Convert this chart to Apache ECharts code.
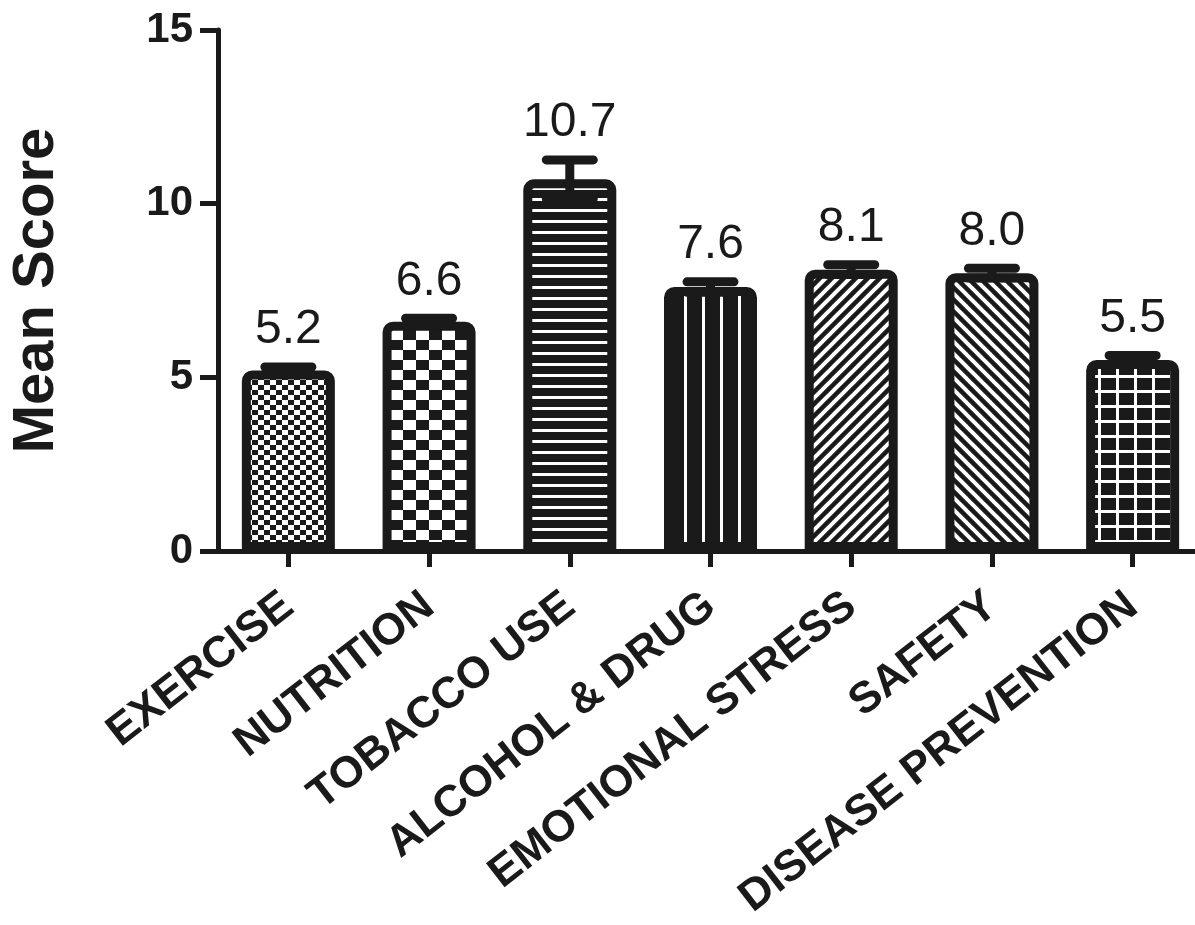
<!DOCTYPE html>
<html>
<head>
<meta charset="utf-8">
<script src="https://cdn.jsdelivr.net/npm/echarts@6/dist/echarts.min.js"></script>
<style>
	html, body { margin: 0; padding: 0; background: #fff; }
	#chart { width: 1195px; height: 925px; }
</style>
</head>
<body>
<div id="chart"></div>
<script>
const categories = ['EXERCISE', 'NUTRITION', 'TOBACCO USE', 'ALCOHOL & DRUG', 'EMOTIONAL STRESS', 'SAFETY', 'DISEASE PREVENTION']
const means = [5.2, 6.6, 10.7, 7.6, 8.1, 8.0, 5.5]
const errors = [0.1, 0.1, 0.56, 0.15, 0.14, 0.14, 0.13]
const meanLabels = ['5.2', '6.6', '10.7', '7.6', '8.1', '8.0', '5.5']
const yTicks = { min: 0, max: 15, step: 5 }

const ink = '#1a1a1a'
const font = '"Liberation Sans", Arial, sans-serif'

// fill patterns, one per bar
const makePattern = (kind) => {
	const c = document.createElement('canvas')
	let w = 12, h = 12
	if (kind === 'checkFine') { w = 12; h = 10 }
	if (kind === 'checkCoarse') { w = 26; h = 20 }
	if (kind === 'hLines') { w = 10; h = 11 }
	if (kind === 'vLines') { w = 18; h = 10 }
	if (kind === 'grid') { w = 18; h = 15 }
	c.width = w
	c.height = h
	const ctx = c.getContext('2d')
	if (kind === 'checkFine' || kind === 'checkCoarse') {
		ctx.fillStyle = '#fff'
		ctx.fillRect(0, 0, w, h)
		ctx.fillStyle = ink
		ctx.fillRect(0, 0, w / 2, h / 2)
		ctx.fillRect(w / 2, h / 2, w / 2, h / 2)
	} else {
		ctx.fillStyle = ink
		ctx.fillRect(0, 0, w, h)
		ctx.fillStyle = '#fff'
		ctx.strokeStyle = '#fff'
		if (kind === 'hLines') ctx.fillRect(0, 0, w, 3)
		if (kind === 'vLines') ctx.fillRect(0, 0, 3, h)
		if (kind === 'grid') {
			ctx.fillRect(0, 0, 3, h)
			ctx.fillRect(0, 0, w, 3)
		}
		if (kind === 'diagUp' || kind === 'diagDown') {
			ctx.lineWidth = 4
			const segs = kind === 'diagUp'
				? [[-w, h, w, -h], [0, h, w, 0], [0, 2 * h, 2 * w, 0]]
				: [[0, 0, w, h], [-w, 0, w, 2 * h], [0, -h, 2 * w, h]]
			segs.forEach((s) => {
				ctx.beginPath()
				ctx.moveTo(s[0], s[1])
				ctx.lineTo(s[2], s[3])
				ctx.stroke()
			})
		}
	}
	return c
}
const patternKinds = ['checkFine', 'checkCoarse', 'hLines', 'vLines', 'diagUp', 'diagDown', 'grid']

const myChart = echarts.init(document.getElementById('chart'))

const options = {
	animation: false,
	grid: {
		left: 218,
		right: -8,
		top: 30,
		bottom: 374,
		outerBoundsMode: 'none',
		containLabel: false,
	},
	xAxis: {
		type: 'category',
		data: categories,
		axisLine: { lineStyle: { color: ink, width: 5 } },
		axisTick: { show: true, alignWithLabel: true, length: 16, lineStyle: { color: ink, width: 5 } },
		axisLabel: {
			interval: 0,
			rotate: 38,
			margin: 50,
			color: ink,
			fontSize: 44,
			fontWeight: 'bold',
			fontFamily: font,
		},
	},
	yAxis: {
		type: 'value',
		min: yTicks.min,
		max: yTicks.max,
		interval: yTicks.step,
		splitLine: { show: false },
		axisLine: { show: true, lineStyle: { color: ink, width: 5 } },
		axisTick: { show: true, length: 18, lineStyle: { color: ink, width: 5 } },
		axisLabel: {
			margin: 25,
			color: ink,
			fontSize: 42,
			fontWeight: 'bold',
			fontFamily: font,
		},
		name: 'Mean Score',
		nameLocation: 'middle',
		nameRotate: 90,
		nameGap: 152,
		nameTextStyle: {
			color: ink,
			fontSize: 58,
			fontWeight: 'bold',
			fontFamily: font,
		},
	},
	series: [
		{
			type: 'bar',
			barWidth: 93,
			z: 2,
			itemStyle: {
				borderColor: ink,
				borderWidth: 9,
				borderRadius: [6, 6, 0, 0],
			},
			data: means.map((v, i) => ({
				value: v,
				itemStyle: { color: { image: makePattern(patternKinds[i]), repeat: 'repeat' } },
			})),
		},
		{
			type: 'custom',
			z: 3,
			encode: { x: 0, y: [1, 2] },
			data: means.map((v, i) => [i, v - errors[i], v + errors[i]]),
			renderItem: (params, api) => {
				const idx = api.value(0)
				const lo = api.coord([idx, api.value(1)])
				const hi = api.coord([idx, api.value(2)])
				const cx = hi[0]
				return {
					type: 'group',
					children: [
						{
							type: 'rect',
							shape: { x: cx - 4.5, y: hi[1], width: 9, height: lo[1] - hi[1] },
							style: { fill: ink },
						},
						{
							type: 'rect',
							shape: { x: cx - 28, y: hi[1] - 4.5, width: 56, height: 9, r: 4.5 },
							style: { fill: ink },
						},
						{
							type: 'rect',
							shape: { x: cx - 28, y: lo[1] - 4.5, width: 56, height: 9, r: 4.5 },
							style: { fill: ink },
						},
						{
							type: 'text',
							x: cx,
							y: hi[1] - 37,
							style: {
								text: meanLabels[params.dataIndex],
								fill: ink,
								font: '48px ' + font,
								align: 'center',
								verticalAlign: 'middle',
							},
						},
					],
				}
			},
		},
	],
}
myChart.setOption(options)
</script>
</body>
</html>
